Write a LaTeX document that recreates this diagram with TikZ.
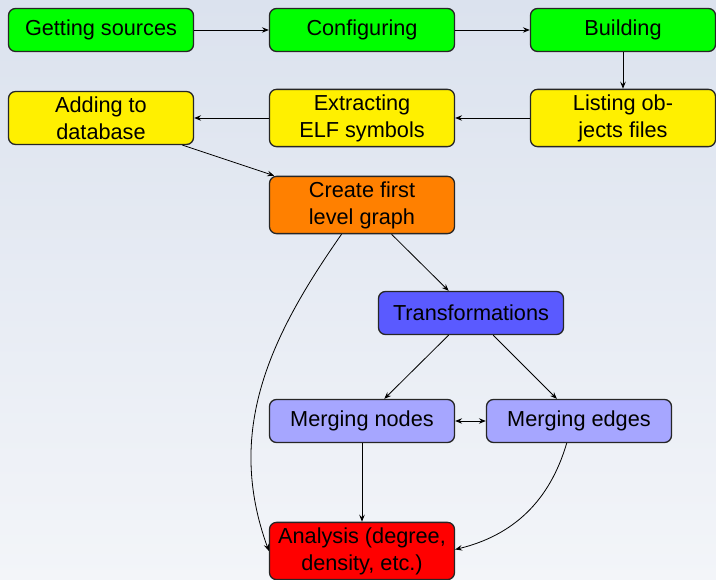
\documentclass[tikz,border=0pt]{standalone}
\usepackage{fontspec}
\setmainfont{Liberation Sans}
\usetikzlibrary{arrows.meta}
\definecolor{bgtop}{RGB}{219,226,238}
\definecolor{bgbot}{RGB}{243,245,249}
\definecolor{cgreen}{RGB}{0,255,0}
\definecolor{cyellow}{RGB}{255,240,0}
\definecolor{corange}{RGB}{255,128,0}
\definecolor{cblue}{RGB}{90,90,255}
\definecolor{clblue}{RGB}{166,166,255}
\definecolor{cred}{RGB}{255,0,0}
\begin{document}
\begin{tikzpicture}[x=1pt,y=1pt,
  box/.style={draw=black!85, line width=1.3pt, rounded corners=7pt,
    minimum width=185pt, minimum height=43pt, inner sep=5pt,
    align=center, font=\fontsize{21.7}{27}\selectfont},
  conn/.style={black, line width=0.8pt, -{Stealth[length=7pt,width=5.5pt,inset=2.5pt]}},
  dconn/.style={black, line width=0.8pt, {Stealth[length=7pt,width=5.5pt,inset=2.5pt]}-{Stealth[length=7pt,width=5.5pt,inset=2.5pt]}}]
\shade[top color=bgtop, bottom color=bgbot] (0,0) rectangle (716,580);
\useasboundingbox (0,0) rectangle (716,580);
\begin{scope}
\clip (0,0) rectangle (716,580);
\node[box, fill=cgreen] (gs) at (101,550) {Getting sources};
\node[box, fill=cgreen] (conf) at (362,550) {Configuring};
\node[box, fill=cgreen] (build) at (623,550) {Building};
\node[box, fill=cyellow] (add) at (101,462) {Adding to\\database};
\node[box, fill=cyellow] (elf) at (362,462) {Extracting\\ELF symbols};
\node[box, fill=cyellow] (list) at (623,462) {Listing ob-\\jects files};
\node[box, fill=corange] (create) at (362,375) {Create first\\level graph};
\node[box, fill=cblue] (trans) at (471,267) {Transformations};
\node[box, fill=clblue] (mn) at (362,159) {Merging nodes};
\node[box, fill=clblue] (me) at (579,159) {Merging edges};
\node[box, fill=cred] (ana) at (362,29) {Analysis (degree,\\density, etc.)};
\draw[conn] (gs) -- (conf);
\draw[conn] (conf) -- (build);
\draw[conn] (build) -- (list);
\draw[conn] (list) -- (elf);
\draw[conn] (elf) -- (add);
\draw[conn] (add) -- (create);
\draw[conn] (create) -- (trans);
\draw[conn] (create) to[out=-125, in=110] (ana.west);
\draw[conn] (trans) -- (mn);
\draw[conn] (trans) -- (me);
\draw[dconn] (mn) -- (me);
\draw[conn] (mn) -- (ana);
\draw[conn] (me) to[bend left=30] (ana);
\end{scope}
\end{tikzpicture}
\end{document}
